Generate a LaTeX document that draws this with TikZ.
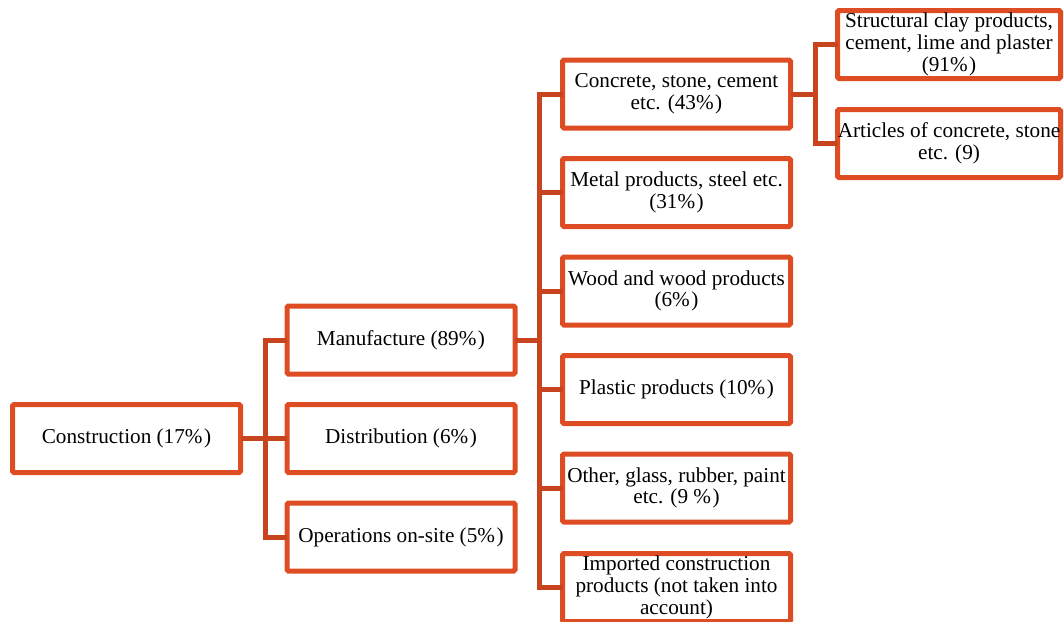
\documentclass[tikz,border=0pt]{standalone}
\usepackage{fontspec}
\setmainfont{Liberation Serif}
\definecolor{boxc}{RGB}{222,76,36}
\definecolor{connc}{RGB}{200,68,30}
\tikzset{
  x=1pt,y=-1pt,
  box/.style={draw=boxc, line width=5pt, rounded corners=1.5pt, fill=white,
    minimum width=228pt, minimum height=68pt, inner sep=0pt, outer sep=0pt,
    align=center, font=\fontsize{21.2}{21.7}\selectfont},
  conn/.style={draw=connc, line width=5pt}
}
\begin{document}
\begin{tikzpicture}
\useasboundingbox (0,0) rectangle (1064,621);
\clip (0,0) rectangle (1064,621);
% bus coordinates
\coordinate (bus1) at (265,0);
\coordinate (bus2) at (539,0);
\coordinate (bus3) at (815,0);
\path
 (126.5,438.5) node[box] (constr) {Construction (17\%\kern1.5pt)}
 (401,340) node[box] (manu) {Manufacture (89\%\kern1.5pt)}
 (401,438.5) node[box] (dist) {Distribution (6\%\kern1.5pt)}
 (401,537) node[box] (ops) {Operations on-site (5\%\kern1.5pt)}
 (676.5,94) node[box] (conc) {Concrete, stone, cement\\etc. (43\%\kern1.5pt)}
 (676.5,192.5) node[box] (metal) {Metal products, steel etc.\\(31\%\kern1.5pt)}
 (676.5,291) node[box] (wood) {Wood and wood products\\(6\%\kern1.5pt)}
 (676.5,389.5) node[box] (plast) {Plastic products (10\%\kern1.5pt)}
 (676.5,488) node[box] (other) {Other, glass, rubber, paint\\etc. (9 \%\kern1.5pt)}
 (676.5,587.5) node[box] (imp) {Imported construction\\products (not taken into\\account)}
 (949,44.5) node[box, minimum width=223pt] (clay) {Structural clay products,\\cement, lime and plaster\\(91\%\kern1.5pt)}
 (949,143.5) node[box, minimum width=223pt] (art) {Articles of concrete, stone\\etc. (9)};
% level 1 connectors
\draw[conn] (constr.east) -- (dist.west);
\draw[conn] (manu.west) -- (manu.west -| bus1) -- (ops.west -| bus1) -- (ops.west);
% level 2 connectors
\draw[conn] (manu.east) -- (manu.east -| bus2);
\draw[conn] (conc.west) -- (conc.west -| bus2) -- (imp.west -| bus2) -- (imp.west);
\draw[conn] (metal.west -| bus2) -- (metal.west);
\draw[conn] (wood.west -| bus2) -- (wood.west);
\draw[conn] (plast.west -| bus2) -- (plast.west);
\draw[conn] (other.west -| bus2) -- (other.west);
% level 3 connectors
\draw[conn] (conc.east) -- (conc.east -| bus3);
\draw[conn] (clay.west) -- (clay.west -| bus3) -- (art.west -| bus3) -- (art.west);
\end{tikzpicture}
\end{document}
